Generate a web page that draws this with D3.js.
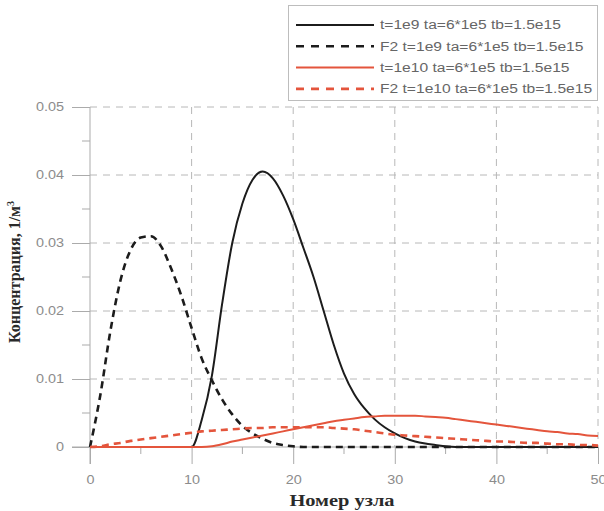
<!DOCTYPE html>
<html>
<head>
<meta charset="utf-8">
<script src="https://cdn.jsdelivr.net/npm/d3@7"></script>
<style>
  body { margin: 0; background: #fff; }
  svg { display: block; }
</style>
</head>
<body>
<div id="chart"></div>
<script>
const width = 604;
const height = 511;

// node numbers 0..50
const nodes = d3.range(0, 51);

const blackSolid = [
  0, 0, 0, 0, 0, 0, 0, 0, 0, 0,
  0, 0.0040, 0.0105, 0.0210, 0.0300, 0.0358, 0.0393, 0.0405, 0.0395, 0.0370,
  0.0335, 0.0293, 0.0250, 0.0200, 0.0150, 0.0108, 0.0078, 0.0057, 0.0041, 0.0029,
  0.0020, 0.0013, 0.0008, 0.0005, 0.0003, 0.0001, 0, 0, 0, 0,
  0, 0, 0, 0, 0, 0, 0, 0, 0, 0, 0
];
const blackDashed = [
  0, 0.0075, 0.0170, 0.0245, 0.0290, 0.0308, 0.0310, 0.0295, 0.0262, 0.0222,
  0.0175, 0.0130, 0.0098, 0.0070, 0.0048, 0.0031, 0.0020, 0.0012, 0.0006, 0.0003,
  0.0001, 0, 0, 0, 0, 0, 0, 0, 0, 0,
  0, 0, 0, 0, 0, 0, 0, 0, 0, 0,
  0, 0, 0, 0, 0, 0, 0, 0, 0, 0, 0
];
const redSolid = [
  0, 0, 0, 0, 0, 0, 0, 0, 0, 0,
  0, 0, 0.0001, 0.0004, 0.0008, 0.0011, 0.0014, 0.0017, 0.0020, 0.0023,
  0.0026, 0.0029, 0.0032, 0.0035, 0.0038, 0.0040, 0.0042, 0.0044, 0.0045, 0.0046,
  0.0046, 0.0046, 0.0046, 0.0045, 0.0044, 0.0043, 0.0041, 0.0039, 0.0037, 0.0035,
  0.0033, 0.0031, 0.0029, 0.0027, 0.0025, 0.0023, 0.0022, 0.0020, 0.0019, 0.0017, 0.0016
];
const redDashed = [
  0, 0.0001, 0.0004, 0.0006, 0.0009, 0.0011, 0.0013, 0.0015, 0.0017, 0.0019,
  0.0021, 0.0023, 0.0024, 0.0025, 0.0026, 0.0027, 0.0028, 0.0028, 0.0029, 0.0029,
  0.0029, 0.0029, 0.0029, 0.0029, 0.0028, 0.0027, 0.0026, 0.0024, 0.0022, 0.0020,
  0.0018, 0.0017, 0.0016, 0.0015, 0.0014, 0.0013, 0.0012, 0.0011, 0.0010, 0.0009,
  0.0008, 0.0008, 0.0007, 0.0006, 0.0006, 0.0005, 0.0004, 0.0004, 0.0003, 0.0003, 0.0002
];

const seriesNames = [
  "t=1e9 ta=6*1e5 tb=1.5e15",
  "F2 t=1e9 ta=6*1e5 tb=1.5e15",
  "t=1e10 ta=6*1e5 tb=1.5e15",
  "F2 t=1e10 ta=6*1e5 tb=1.5e15"
];

const xTicks = [0, 10, 20, 30, 40, 50];
const yTicks = [0, 0.01, 0.02, 0.03, 0.04, 0.05];
const xLabel = "Номер узла";
const yLabel = "Концентрация, 1/м";

const black = "#1c1c1c";
const red = "#e4553c";
// the source picture is a bit wider than tall, text looks stretched sideways
const stretch = 1.2;

const series = [
  { name: seriesNames[0], values: blackSolid, color: black, dash: null, w: 2 },
  { name: seriesNames[1], values: blackDashed, color: black, dash: "7,5", w: 2.6 },
  { name: seriesNames[2], values: redSolid, color: red, dash: null, w: 2 },
  { name: seriesNames[3], values: redDashed, color: red, dash: "7,5", w: 2.6 }
];

const x = d3.scaleLinear().domain([0, 50]).range([90, 598]);
const y = d3.scaleLinear().domain([0, 0.05]).range([447, 107]);

const svg = d3.select("#chart")
  .append("svg")
  .attr("width", width)
  .attr("height", height);

function widen(sel, k = stretch) {
  sel.each(function () {
    const len = this.getComputedTextLength();
    d3.select(this)
      .attr("textLength", len * k)
      .attr("lengthAdjust", "spacingAndGlyphs");
  });
}

// grid
svg.append("g")
  .selectAll("line")
  .data(xTicks.slice(1))
  .join("line")
  .attr("x1", d => x(d)).attr("x2", d => x(d))
  .attr("y1", y(0.05)).attr("y2", y(0))
  .attr("stroke", "#b8b8b8")
  .attr("stroke-dasharray", "7,6");

svg.append("g")
  .selectAll("line")
  .data(yTicks.slice(1))
  .join("line")
  .attr("x1", x(0)).attr("x2", x(50))
  .attr("y1", d => y(d)).attr("y2", d => y(d))
  .attr("stroke", "#b8b8b8")
  .attr("stroke-dasharray", "7,6");

// axes
const xAxis = svg.append("g")
  .attr("transform", `translate(0,${y(0)})`)
  .call(d3.axisBottom(x).tickValues(xTicks).tickSize(17).tickPadding(11).tickFormat(d3.format("d")));

const yAxis = svg.append("g")
  .attr("transform", `translate(${x(0)},0)`)
  .call(d3.axisLeft(y).tickValues(yTicks).tickSize(18).tickPadding(8)
    .tickFormat(d => d === 0 ? "0" : d3.format(".2f")(d)));

[xAxis, yAxis].forEach(g => {
  g.select(".domain").remove();
  g.selectAll("line").attr("stroke", "#ababab");
  g.selectAll("text")
    .attr("fill", "#8c8c8c")
    .style("font-family", "Liberation Sans, Arial, sans-serif")
    .style("font-size", "12px")
    .call(widen);
});

svg.append("line")
  .attr("x1", x(0) - 18).attr("x2", x(50))
  .attr("y1", y(0)).attr("y2", y(0))
  .attr("stroke", "#ababab");
svg.append("line")
  .attr("x1", x(0)).attr("x2", x(0))
  .attr("y1", y(0.05)).attr("y2", y(0) + 17)
  .attr("stroke", "#ababab");

// minor ticks
svg.append("g")
  .selectAll("line")
  .data([5, 15, 25, 35, 45])
  .join("line")
  .attr("x1", d => x(d)).attr("x2", d => x(d))
  .attr("y1", y(0)).attr("y2", y(0) + 7)
  .attr("stroke", "#ababab");
svg.append("g")
  .selectAll("line")
  .data([0.005, 0.015, 0.025, 0.035, 0.045])
  .join("line")
  .attr("x1", x(0) - 8).attr("x2", x(0))
  .attr("y1", d => y(d)).attr("y2", d => y(d))
  .attr("stroke", "#ababab");

// curves
const line = d3.line()
  .x((d, i) => x(nodes[i]))
  .y(d => y(d))
  .curve(d3.curveMonotoneX);

svg.append("g")
  .selectAll("path")
  .data(series)
  .join("path")
  .attr("d", d => line(d.values))
  .attr("fill", "none")
  .attr("stroke", d => d.color)
  .attr("stroke-width", d => d.w)
  .attr("stroke-dasharray", d => d.dash);

// axis labels
svg.append("text")
  .attr("x", 342).attr("y", 506)
  .attr("text-anchor", "middle")
  .style("font-family", "Liberation Serif, Times New Roman, serif")
  .style("font-weight", "bold")
  .style("font-size", "17px")
  .attr("fill", "#2a2a2a")
  .text(xLabel)
  .call(widen);

const yl = svg.append("text")
  .attr("transform", "translate(20,272) rotate(-90)")
  .attr("text-anchor", "middle")
  .style("font-family", "Liberation Serif, Times New Roman, serif")
  .style("font-weight", "bold")
  .style("font-size", "16px")
  .attr("fill", "#2a2a2a");
yl.append("tspan").text(yLabel);
yl.append("tspan").attr("dy", -6).style("font-size", "10px").text("3");

// legend
const legend = svg.append("g");
legend.append("rect")
  .attr("x", 288.5).attr("y", 5.5)
  .attr("width", 309).attr("height", 95)
  .attr("fill", "#fff")
  .attr("stroke", "#bdbdbd");

const rows = legend.selectAll("g.row")
  .data(series)
  .join("g")
  .attr("class", "row")
  .attr("transform", (d, i) => `translate(0,${25 + i * 21.3})`);

rows.append("line")
  .attr("x1", 296).attr("x2", 374)
  .attr("stroke", d => d.color)
  .attr("stroke-width", d => d.w)
  .attr("stroke-dasharray", d => d.dash ? "8,7" : null);

rows.append("text")
  .attr("x", 380).attr("dy", "0.35em")
  .style("font-family", "Liberation Sans, Arial, sans-serif")
  .style("font-size", "12px")
  .attr("fill", "#666")
  .text(d => d.name)
  .call(widen, 1.3);
</script>
</body>
</html>
